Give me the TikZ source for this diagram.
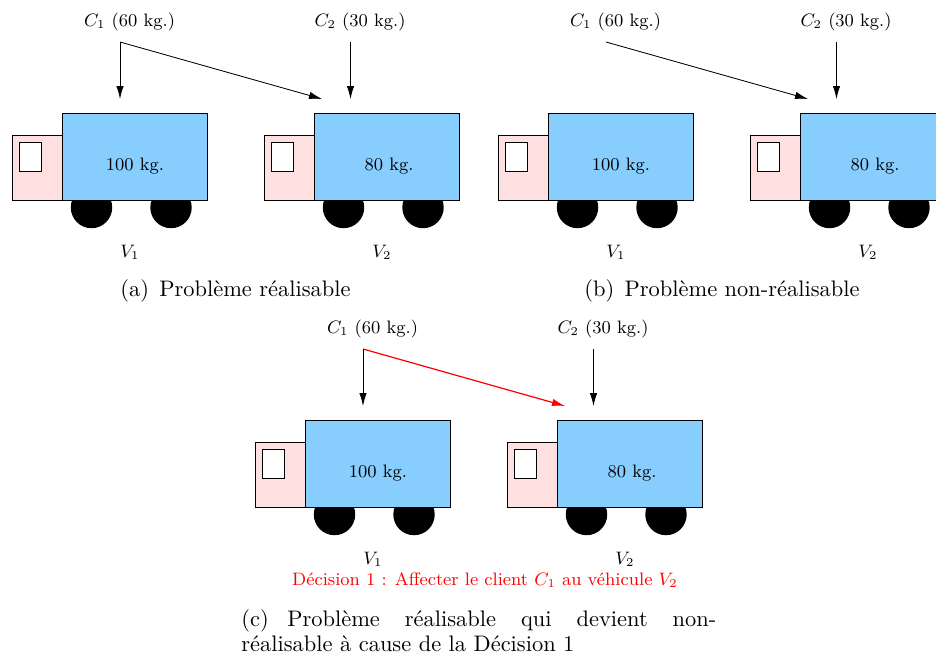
\documentclass[tikz,border=0pt]{standalone}
\usepackage{amsmath, amssymb}
\usepackage{tikz}
\usetikzlibrary{arrows.meta}
\definecolor{bleu1}{RGB}{135, 206, 255}
\definecolor{rose1}{RGB}{255, 224, 224}
\tikzset{
  bloc/.style={draw, inner sep=0pt, outer sep=0pt},
  roue/.style={circle, fill=black, inner sep=0pt, outer sep=0pt, minimum size=20.7pt},
  petit/.style={font=\fontsize{9}{11}\selectfont, inner sep=0pt},
  legende/.style={font=\fontsize{10.95}{11.9}\selectfont, inner sep=0pt, scale=1.025},
  fleche/.style={-{Latex[length=6.5pt,width=3.7pt]}}
}
\newcommand{\camion}[5]{% nom, x, charge, x de la charge, vehicule
  \begin{scope}[shift={(#2,0)}]
    \node[roue] (#1-r1) at (91.5,207.5) {};
    \node[roue] (#1-r2) at (171,207.5) {};
    \node[bloc, fill=rose1, minimum width=25pt, minimum height=32.5pt] (#1-cab) at (37,167.5) {};
    \node[bloc, fill=white, minimum width=11pt, minimum height=14.5pt] (#1-vitre) at (30,156.5) {};
    \node[bloc, fill=bleu1, minimum width=72.3pt, minimum height=43.5pt] (#1-box) at (134.6,156.5) {};
    \node[petit] (#1-charge) at (#4,166.5) {#3};
    \node[petit] (#1-nom) at (130,252) {$#5$};
  \end{scope}
}
\begin{document}
\begin{tikzpicture}[x=0.5pt, y=-0.5pt]
  \useasboundingbox (0,0) rectangle (936,653);
  \foreach \p/\dx/\dy/\col/\ep in {a/0/0/black/0.4pt, b/486/0/black/0.4pt, c/243/307/red/0.6pt} {
    \begin{scope}[shift={(\dx,\dy)}]
      \camion{\p1}{0}{100 kg.}{135}{V_1}
      \camion{\p2}{252}{80 kg.}{137}{V_2}
      \node[petit] (\p-c1) at (129.5,22) {$C_1$ (60 kg.)};
      \node[petit] (\p-c2) at (360,22) {$C_2$ (30 kg.)};
      \coordinate (\p-s1) at (120,42);
      \coordinate (\p-s2) at (350.5,42);
      \coordinate (\p-e1) at (120,99);
      \coordinate (\p-e2) at (322,99);
      \coordinate (\p-e3) at (350.5,99);
      \draw[fleche, draw=\col, fill=\col, line width=\ep] (\p-s1) -- (\p-e2);
      \draw[fleche] (\p-s2) -- (\p-e3);
    \end{scope}
  }
  \draw[fleche] (a-s1) -- (a-e1);
  \draw[fleche] (c-s1) -- (c-e1);
  % legendes
  \node[legende] (leg-a) at (235.5,291) {(a)\hspace{5pt}Problème réalisable};
  \node[legende] (leg-b) at (722,291) {(b)\hspace{5pt}Problème non-réalisable};
  \node[petit, text=red] (decision) at (485,580) {Décision 1 : Affecter le client $C_1$ au véhicule $V_2$};
  \node[legende, text width=231.7pt, align=justify, anchor=north west] (leg-c) at (241,609.5) {(c)\hspace{9pt}Problème réalisable qui devient non-\linebreak réalisable à cause de la Décision 1};
\end{tikzpicture}
\end{document}
